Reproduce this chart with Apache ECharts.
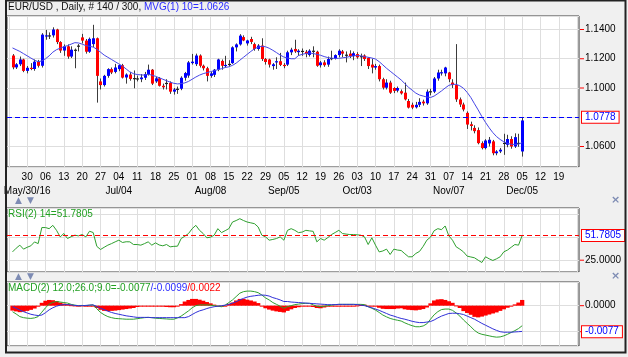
<!DOCTYPE html>
<html><head><meta charset="utf-8">
<script src="https://cdn.jsdelivr.net/npm/echarts@6/dist/echarts.min.js"></script>
<style>html,body{margin:0;padding:0;background:#f0f0f0;}#c{width:628px;height:357px;}</style>
</head><body><div id="c"></div>
<script>
// ---------- categories (trading days) ----------
const firstDay = Date.UTC(2016, 4, 23);
const dayCount = 156;
const categories = [];
for (let t = firstDay; categories.length < dayCount; t += 86400000) {
  const d = new Date(t), wd = d.getUTCDay();
  if (wd > 0 && wd < 6) categories.push(d.toISOString().slice(0, 10));
}
const firstBarIndex = 1; // first candle: 2016-05-24
const monthTickLabels = {
  '2016-05-30': 'May/30/16', '2016-07-04': 'Jul/04', '2016-08-08': 'Aug/08',
  '2016-09-05': 'Sep/05', '2016-10-03': 'Oct/03', '2016-11-07': 'Nov/07', '2016-12-05': 'Dec/05'
};
const dayLabelFirst = '2016-05-30', dayLabelLast = '2016-12-19';

// ---------- price bars ----------
const barOpen = [
 1.1222,1.1141,1.1162,1.1195,
 1.1117,1.1138,1.1130,1.1180,1.1152,
 1.1352,1.1360,1.1360,1.1400,1.1314,
 1.1256,1.1285,1.1215,1.1262,1.1285,
 1.1346,1.1324,1.1248,1.1300,1.1340,
 1.1045,1.1020,1.1083,1.1129,1.1110,
 1.1129,1.1156,1.1072,1.1092,1.1062,
 1.1062,1.1060,1.1070,1.1095,1.1125,
 1.1045,1.1066,1.1015,1.1030,1.1035,
 1.0975,1.0990,1.0995,1.1070,1.1085,
 1.1170,1.1163,1.1222,1.1152,1.1135,
 1.1083,1.1090,1.1125,1.1185,1.1150,
 1.1160,1.1170,1.1278,1.1298,1.1348,
 1.1305,1.1335,1.1300,1.1267,1.1290,
 1.1198,1.1195,1.1150,1.1175,1.1183,
 1.1158,1.1160,1.1244,1.1267,1.1245,
 1.1250,1.1248,1.1226,1.1255,1.1248,
 1.1156,1.1175,1.1160,1.1200,1.1205,
 1.1225,1.1250,1.1225,1.1235,1.1218,
 1.1232,1.1215,1.1222,1.1205,1.1160,
 1.1140,1.1150,1.1060,1.1002,1.1037,
 1.1000,1.0982,1.0978,1.0968,1.0911,
 1.0885,1.0868,1.0885,1.0907,1.0895,
 1.0975,1.0975,1.1065,1.1100,1.1100,
 1.1106,1.1037,1.1020,1.0922,1.0887,
 1.0830,1.0752,1.0727,1.0712,1.0623,
 1.0589,1.0621,1.0635,1.0554,1.0566,
 1.0620,1.0612,1.0651,1.0600,1.0620,
 1.0566];
const barHigh = [
 1.1232,1.1170,1.1215,1.1200,
 1.1150,1.1170,1.1195,1.1192,1.1375,
 1.1397,1.1380,1.1415,1.1405,1.1320,
 1.1298,1.1298,1.1285,1.1270,1.1300,
 1.1370,1.1335,1.1345,1.1432,1.1345,
 1.1065,1.1090,1.1135,1.1140,1.1165,
 1.1160,1.1165,1.1100,1.1110,1.1120,
 1.1085,1.1095,1.1110,1.1160,1.1130,
 1.1075,1.1075,1.1030,1.1060,1.1045,
 1.1000,1.1010,1.1080,1.1110,1.1185,
 1.1233,1.1235,1.1230,1.1160,1.1145,
 1.1110,1.1130,1.1200,1.1195,1.1220,
 1.1190,1.1285,1.1305,1.1368,1.1360,
 1.1330,1.1350,1.1310,1.1300,1.1340,
 1.1205,1.1200,1.1170,1.1210,1.1240,
 1.1170,1.1255,1.1275,1.1330,1.1265,
 1.1270,1.1260,1.1265,1.1285,1.1255,
 1.1185,1.1190,1.1215,1.1255,1.1230,
 1.1265,1.1260,1.1250,1.1258,1.1250,
 1.1245,1.1235,1.1230,1.1210,1.1200,
 1.1165,1.1160,1.1070,1.1060,1.1050,
 1.1005,1.1010,1.0990,1.1037,1.0925,
 1.0900,1.0905,1.0930,1.0920,1.0990,
 1.0995,1.1075,1.1125,1.1125,1.1145,
 1.1110,1.1060,1.1300,1.0935,1.0900,
 1.0840,1.0770,1.0745,1.0730,1.0635,
 1.0650,1.0665,1.0645,1.0575,1.0590,
 1.0687,1.0680,1.0670,1.0690,1.0687,
 1.0795];
const barLow = [
 1.1128,1.1130,1.1150,1.1108,
 1.1100,1.1122,1.1118,1.1140,1.1140,
 1.1330,1.1335,1.1345,1.1300,1.1240,
 1.1220,1.1200,1.1205,1.1135,1.1250,
 1.1305,1.1235,1.1240,1.1280,1.0900,
 1.0990,1.1010,1.1070,1.1095,1.1100,
 1.1115,1.1065,1.1030,1.1050,1.0998,
 1.1045,1.1040,1.1055,1.1085,1.1020,
 1.1035,1.1010,1.0990,1.0990,1.0960,
 1.0955,1.0960,1.0985,1.1050,1.1070,
 1.1160,1.1150,1.1140,1.1120,1.1045,
 1.1070,1.1075,1.1115,1.1125,1.1140,
 1.1145,1.1165,1.1250,1.1290,1.1320,
 1.1290,1.1300,1.1255,1.1255,1.1185,
 1.1160,1.1140,1.1125,1.1130,1.1150,
 1.1135,1.1150,1.1225,1.1240,1.1220,
 1.1220,1.1210,1.1215,1.1210,1.1145,
 1.1140,1.1145,1.1145,1.1190,1.1195,
 1.1210,1.1210,1.1175,1.1205,1.1190,
 1.1200,1.1150,1.1185,1.1130,1.1100,
 1.1125,1.1045,1.0990,1.0990,1.0960,
 1.0965,1.0970,1.0955,1.0915,1.0860,
 1.0855,1.0860,1.0870,1.0880,1.0885,
 1.0950,1.0965,1.1050,1.1085,1.1080,
 1.1040,1.1000,1.0905,1.0870,1.0840,
 1.0720,1.0710,1.0690,1.0615,1.0580,
 1.0580,1.0600,1.0540,1.0540,1.0555,
 1.0543,1.0595,1.0585,1.0590,1.0598,
 1.0531];
const barClose = [
 1.1141,1.1162,1.1195,1.1117,
 1.1138,1.1130,1.1180,1.1152,1.1365,
 1.1360,1.1355,1.1400,1.1314,1.1256,
 1.1285,1.1215,1.1262,1.1258,1.1290,
 1.1324,1.1248,1.1336,1.1340,1.1083,
 1.1020,1.1083,1.1129,1.1106,1.1140,
 1.1156,1.1071,1.1092,1.1062,1.1068,
 1.1066,1.1072,1.1095,1.1125,1.1030,
 1.1066,1.1015,1.1005,1.1035,1.0975,
 1.0990,1.0995,1.1070,1.1102,1.1175,
 1.1180,1.1222,1.1152,1.1135,1.1083,
 1.1100,1.1125,1.1195,1.1152,1.1158,
 1.1165,1.1278,1.1298,1.1358,1.1325,
 1.1325,1.1315,1.1267,1.1290,1.1198,
 1.1178,1.1160,1.1162,1.1183,1.1158,
 1.1150,1.1244,1.1262,1.1250,1.1255,
 1.1254,1.1232,1.1255,1.1250,1.1152,
 1.1175,1.1156,1.1198,1.1205,1.1225,
 1.1255,1.1235,1.1228,1.1218,1.1238,
 1.1210,1.1218,1.1198,1.1150,1.1140,
 1.1150,1.1060,1.1002,1.1037,1.0968,
 1.0980,1.1000,1.0963,1.0922,1.0866,
 1.0866,1.0885,1.0905,1.0895,1.0975,
 1.0978,1.1065,1.1106,1.1108,1.1140,
 1.1060,1.1020,1.0922,1.0887,1.0853,
 1.0750,1.0740,1.0705,1.0623,1.0589,
 1.0641,1.0646,1.0554,1.0566,1.0578,
 1.0625,1.0651,1.0600,1.0664,1.0625,
 1.0778];
// moving average MVG(1) 10
const mvg = [
 1.1274,1.1262,1.1250,1.1235,
 1.1220,1.1205,1.1190,1.1180,1.1185,
 1.1200,1.1220,1.1245,1.1262,1.1272,
 1.1282,1.1290,1.1300,1.1310,1.1308,
 1.1300,1.1290,1.1285,1.1280,1.1265,
 1.1245,1.1225,1.1210,1.1195,1.1180,
 1.1165,1.1150,1.1130,1.1110,1.1098,
 1.1092,1.1090,1.1088,1.1094,1.1088,
 1.1080,1.1070,1.1060,1.1050,1.1040,
 1.1032,1.1028,1.1030,1.1035,1.1045,
 1.1060,1.1075,1.1088,1.1098,1.1105,
 1.1112,1.1118,1.1125,1.1132,1.1140,
 1.1145,1.1155,1.1170,1.1190,1.1210,
 1.1230,1.1250,1.1268,1.1280,1.1285,
 1.1282,1.1272,1.1258,1.1242,1.1225,
 1.1212,1.1205,1.1200,1.1200,1.1222,
 1.1230,1.1236,1.1239,1.1236,1.1230,
 1.1224,1.1215,1.1208,1.1204,1.1202,
 1.1203,1.1206,1.1210,1.1215,1.1220,
 1.1222,1.1220,1.1215,1.1210,1.1205,
 1.1198,1.1180,1.1158,1.1135,1.1115,
 1.1095,1.1075,1.1055,1.1030,1.1005,
 1.0985,1.0965,1.0952,1.0945,1.0938,
 1.0935,1.0945,1.0962,1.0980,1.1000,
 1.1018,1.1025,1.1025,1.1015,1.0998,
 1.0970,1.0935,1.0892,1.0850,1.0805,
 1.0765,1.0728,1.0695,1.0668,1.0648,
 1.0632,1.0622,1.0615,1.0614,1.0617,
 1.0626];
// RSI(2) 14
const rsi = [
 34.0,38.0,41.3,37.0,
 39.0,40.6,44.8,43.0,60.4,
 60.4,59.2,62.8,57.4,50.3,
 53.9,48.5,50.5,52.1,51.4,
 52.8,50.3,56.4,55.0,40.0,
 36.6,39.0,41.3,43.0,44.9,
 46.7,44.2,45.0,44.9,42.0,
 42.0,41.3,43.0,44.9,41.3,
 43.8,41.5,40.6,42.0,39.5,
 40.0,40.2,48.5,51.0,53.9,
 59.2,62.8,57.4,53.9,49.3,
 50.0,52.1,59.2,54.9,57.0,
 59.2,66.4,68.0,70.0,68.0,
 66.4,65.5,64.6,61.0,52.1,
 50.3,46.7,47.5,48.5,50.3,
 46.7,57.4,59.2,57.4,54.9,
 55.5,57.4,56.8,56.3,44.9,
 48.5,46.7,49.5,52.8,55.0,
 57.4,53.9,53.3,52.8,52.8,
 52.5,52.1,50.3,42.0,49.3,
 41.3,34.0,35.0,37.0,31.2,
 37.0,36.0,35.5,32.0,28.7,
 28.7,32.3,34.5,40.0,46.7,
 50.0,57.0,59.2,58.1,62.1,
 51.4,46.7,39.5,37.0,34.0,
 29.4,28.5,27.6,25.0,22.5,
 28.7,26.5,24.7,26.5,28.7,
 34.1,36.0,39.0,42.0,41.3,
 51.7805];
// MACD(2) 12;26;9
const macdLine = [
 -0.0023,-0.0032,-0.0042,-0.0046,
 -0.0048,-0.0049,-0.0047,-0.0042,-0.0025,
 -0.0008,0.0006,0.0013,0.0016,0.0014,
 0.0012,0.0010,0.0005,0.0002,0.0000,
 0.0001,0.0000,0.0002,0.0003,-0.0012,
 -0.0026,-0.0035,-0.0042,-0.0046,-0.0049,
 -0.0050,-0.0051,-0.0052,-0.0052,-0.0052,
 -0.0050,-0.0048,-0.0046,-0.0045,-0.0046,
 -0.0048,-0.0049,-0.0050,-0.0051,-0.0052,
 -0.0052,-0.0047,-0.0040,-0.0030,-0.0020,
 -0.0008,0.0000,0.0003,0.0003,0.0003,
 0.0002,0.0000,-0.0002,-0.0004,0.0002,
 0.0012,0.0022,0.0035,0.0048,0.0054,
 0.0056,0.0056,0.0054,0.0050,0.0041,
 0.0030,0.0022,0.0012,0.0005,-0.0002,
 -0.0010,-0.0004,0.0000,0.0004,0.0006,
 0.0008,0.0009,0.0009,0.0003,-0.0002,
 -0.0004,-0.0002,0.0000,0.0002,0.0004,
 0.0005,0.0005,0.0005,0.0005,0.0005,
 0.0005,0.0005,0.0004,-0.0004,-0.0010,
 -0.0017,-0.0026,-0.0036,-0.0043,-0.0049,
 -0.0053,-0.0056,-0.0059,-0.0066,-0.0072,
 -0.0077,-0.0081,-0.0081,-0.0078,-0.0070,
 -0.0052,-0.0035,-0.0023,-0.0015,-0.0013,
 -0.0013,-0.0018,-0.0028,-0.0040,-0.0055,
 -0.0068,-0.0081,-0.0095,-0.0105,-0.0110,
 -0.0113,-0.0116,-0.0119,-0.0121,-0.0120,
 -0.0116,-0.0110,-0.0103,-0.0096,-0.0088,
 -0.0077];
const macdSignal = [
 -0.0004,-0.0010,-0.0017,-0.0023,
 -0.0028,-0.0033,-0.0036,-0.0038,-0.0036,
 -0.0027,-0.0016,-0.0008,-0.0002,0.0002,
 0.0004,0.0004,0.0003,0.0001,0.0000,
 0.0000,0.0001,0.0002,0.0003,-0.0003,
 -0.0010,-0.0015,-0.0021,-0.0026,-0.0030,
 -0.0033,-0.0036,-0.0039,-0.0041,-0.0043,
 -0.0045,-0.0045,-0.0045,-0.0045,-0.0046,
 -0.0046,-0.0046,-0.0046,-0.0046,-0.0046,
 -0.0046,-0.0046,-0.0046,-0.0046,-0.0042,
 -0.0034,-0.0026,-0.0020,-0.0016,-0.0011,
 -0.0007,-0.0004,-0.0002,0.0000,0.0002,
 0.0005,0.0010,0.0015,0.0022,0.0028,
 0.0033,0.0036,0.0038,0.0040,0.0041,
 0.0040,0.0037,0.0031,0.0027,0.0022,
 0.0016,0.0016,0.0014,0.0013,0.0012,
 0.0011,0.0010,0.0009,0.0008,0.0007,
 0.0006,0.0005,0.0004,0.0004,0.0004,
 0.0005,0.0005,0.0005,0.0005,0.0005,
 0.0004,0.0002,0.0000,-0.0004,-0.0008,
 -0.0013,-0.0018,-0.0024,-0.0030,-0.0036,
 -0.0040,-0.0045,-0.0049,-0.0052,-0.0056,
 -0.0060,-0.0063,-0.0065,-0.0065,-0.0063,
 -0.0061,-0.0055,-0.0047,-0.0040,-0.0035,
 -0.0030,-0.0029,-0.0029,-0.0031,-0.0034,
 -0.0040,-0.0046,-0.0052,-0.0060,-0.0068,
 -0.0075,-0.0082,-0.0089,-0.0095,-0.0100,
 -0.0102,-0.0102,-0.0102,-0.0101,-0.0100,
 -0.0099];
const macdHist = [
 -0.0019,-0.0022,-0.0025,-0.0023,
 -0.0020,-0.0016,-0.0011,-0.0004,0.0011,
 0.0019,0.0022,0.0021,0.0018,0.0012,
 0.0008,0.0006,0.0002,0.0001,0.0000,
 0.0001,-0.0001,0.0000,0.0000,-0.0009,
 -0.0016,-0.0020,-0.0021,-0.0020,-0.0019,
 -0.0017,-0.0015,-0.0013,-0.0011,-0.0009,
 -0.0005,-0.0003,-0.0001,0.0000,0.0000,
 -0.0002,-0.0003,-0.0004,-0.0005,-0.0006,
 -0.0006,-0.0001,0.0006,0.0016,0.0022,
 0.0026,0.0026,0.0023,0.0019,0.0014,
 0.0009,0.0004,0.0000,-0.0004,0.0000,
 0.0007,0.0012,0.0020,0.0026,0.0026,
 0.0023,0.0020,0.0016,0.0010,0.0000,
 -0.0010,-0.0015,-0.0019,-0.0022,-0.0024,
 -0.0026,-0.0020,-0.0014,-0.0009,-0.0006,
 -0.0003,-0.0001,0.0000,-0.0005,-0.0009,
 -0.0010,-0.0007,-0.0004,-0.0002,0.0000,
 0.0000,0.0000,0.0000,0.0000,0.0000,
 0.0001,0.0003,0.0004,0.0000,-0.0002,
 -0.0004,-0.0008,-0.0012,-0.0013,-0.0013,
 -0.0013,-0.0011,-0.0010,-0.0014,-0.0016,
 -0.0017,-0.0018,-0.0016,-0.0013,-0.0007,
 0.0009,0.0020,0.0024,0.0025,0.0022,
 0.0017,0.0011,0.0001,-0.0009,-0.0021,
 -0.0028,-0.0035,-0.0043,-0.0045,-0.0042,
 -0.0038,-0.0034,-0.0030,-0.0026,-0.0020,
 -0.0014,-0.0008,-0.0001,0.0005,0.0012,
 0.0022];

// ---------- helpers ----------
const FONT = 'Liberation Sans, Arial, sans-serif';
const last = barClose.length - 1;
const lastClose = barClose[last];
const isMonday = s => new Date(s + 'T00:00:00Z').getUTCDay() === 1;
const pairs = arr => arr.map((v, i) => [i + firstBarIndex, v]);
const candleData = barOpen.map((o, i) => [i + firstBarIndex, o, barClose[i], barLow[i], barHigh[i]]);

const grids = [
  {left: 7, top: 16, width: 572, height: 151},
  {left: 7, top: 208, width: 572, height: 64},
  {left: 7, top: 282, width: 572, height: 64}
].map(g => Object.assign(g, {show: true, backgroundColor: '#ffffff', borderColor: '#3a3a3a', borderWidth: 1}));

function catAxis(gridIndex, extra) {
  return Object.assign({
    type: 'category', gridIndex, data: categories, boundaryGap: true,
    axisLine: {show: false}, axisTick: {show: false}, axisLabel: {show: false},
    splitLine: {show: true, alignWithLabel: true, interval: (i, v) => isMonday(v),
      lineStyle: {color: '#dedede', width: 1}}
  }, extra || {});
}
function valueLabel(digits, hide) {
  return {
    show: true, margin: 1, showMinLabel: false, showMaxLabel: false,
    fontFamily: FONT, fontSize: 10, color: '#000',
    formatter: v => hide(v) ? '' : '{tk|}{v|' + v.toFixed(digits) + '}',
    rich: {tk: {width: 4, height: 1, backgroundColor: '#ff0000'}, v: {fontFamily: FONT, fontSize: 10, color: '#000', padding: [0, 0, 0, 1]}}
  };
}
function valAxis(gridIndex, min, max, step, digits, hide) {
  return {
    type: 'value', gridIndex, position: 'right', min, max, minInterval: step, maxInterval: step,
    axisLine: {show: false}, axisTick: {show: false},
    axisLabel: valueLabel(digits, hide),
    splitLine: {show: true, lineStyle: {color: '#dedede', width: 1}}
  };
}
function boxLabel(text) {
  return {show: true, position: 'end', distance: 3, formatter: text,
    fontFamily: FONT, fontSize: 10, color: '#0000ff', backgroundColor: '#ffffff',
    borderColor: '#ff0000', borderWidth: 1, padding: [1, 3, 0, 3], opacity: 1};
}

function renderCandle(params, api) {
  const x = api.value(0), o = api.value(1), c = api.value(2), l = api.value(3), h = api.value(4);
  const pO = api.coord([x, o]), pC = api.coord([x, c]), pL = api.coord([x, l]), pH = api.coord([x, h]);
  const cx = Math.round(pO[0]) + 0.5;
  const top = Math.min(pO[1], pC[1]), bot = Math.max(pO[1], pC[1]);
  const doji = Math.abs(c - o) < 0.0006;
  const fill = doji ? '#202020' : (c >= o ? '#0000ff' : '#ff0000');
  return {type: 'group', children: [
    {type: 'line', shape: {x1: cx, y1: pH[1], x2: cx, y2: pL[1]}, style: {stroke: '#3c3c3c', lineWidth: 1}},
    {type: 'rect', shape: {x: cx - 1.5, y: top, width: 3, height: Math.max(bot - top, 1.2)}, style: {fill}}
  ]};
}
function renderHist(params, api) {
  const x = api.value(0), v = api.value(1);
  const p0 = api.coord([x, 0]), p1 = api.coord([x, v]);
  const w = api.size([1, 0])[0];
  const top = Math.min(p0[1], p1[1]);
  return {type: 'rect', shape: {x: p0[0] - w / 2 - 0.3, y: top, width: w + 0.6, height: Math.max(Math.abs(p1[1] - p0[1]), 1)},
    style: {fill: '#ff0000'}};
}

const option = {
  backgroundColor: '#f0f0f0',
  animation: false,
  title: [
    {left: 8, top: 2, padding: 0,
      text: '{a|EUR/USD , Daily, # ' + barOpen.length + ' / 300,} {b|MVG(1) 10=' + mvg[last].toFixed(4) + '}',
      textStyle: {fontFamily: FONT, fontSize: 10, fontWeight: 'normal',
        rich: {a: {fontFamily: FONT, fontSize: 10, color: '#111'}, b: {fontFamily: FONT, fontSize: 10, color: '#2a2aff'}}}},
    {left: 8, top: 209, padding: 0,
      text: 'RSI(2) 14=' + rsi[last].toFixed(4),
      textStyle: {fontFamily: FONT, fontSize: 10, fontWeight: 'normal', color: '#22a022'}},
    {left: 8, top: 283, padding: 0,
      text: '{g|MACD(2) 12.0;26.0;9.0=' + macdLine[last].toFixed(4) + '}{b|/' + macdSignal[last].toFixed(4) + '}{r|/' + macdHist[last].toFixed(4) + '}',
      textStyle: {fontFamily: FONT, fontSize: 10, fontWeight: 'normal',
        rich: {g: {fontFamily: FONT, fontSize: 10, color: '#22a022'}, b: {fontFamily: FONT, fontSize: 10, color: '#2a2aff'}, r: {fontFamily: FONT, fontSize: 10, color: '#ff0000'}}}}
  ],
  grid: grids,
  xAxis: [
    catAxis(0, {axisLabel: {show: true, margin: 5, fontFamily: FONT, fontSize: 10, color: '#000',
      interval: (i, v) => isMonday(v) && v >= dayLabelFirst && v <= dayLabelLast,
      formatter: v => v.slice(8, 10)}}),
    catAxis(0, {position: 'bottom', offset: 14, splitLine: {show: false},
      axisLabel: {show: true, margin: 5, fontFamily: FONT, fontSize: 10, color: '#000',
        interval: (i, v) => monthTickLabels[v] !== undefined,
        formatter: v => monthTickLabels[v] || ''}}),
    catAxis(1),
    catAxis(2)
  ],
  yAxis: [
    valAxis(0, 1.04598, 1.14923, 0.02, 4, v => Math.abs(v - lastClose) < 0.004),
    valAxis(1, 12.2, 81.6, 25, 4, v => Math.abs(v - rsi[last]) < 6 || v > 70),
    valAxis(2, -0.0155, 0.0091, 0.01, 4, v => false)
  ],
  series: [
    {type: 'custom', name: 'EUR/USD', xAxisIndex: 0, yAxisIndex: 0, clip: true,
      renderItem: renderCandle, data: candleData, encode: {x: 0, y: [1, 2, 3, 4]}, z: 2},
    {type: 'line', name: 'MVG', xAxisIndex: 0, yAxisIndex: 0, data: pairs(mvg), showSymbol: false,
      lineStyle: {color: '#4646e6', width: 1}, z: 3,
      markLine: {silent: true, symbol: 'none', data: [{yAxis: lastClose}],
        lineStyle: {color: '#0000ff', width: 1, type: [5, 3]},
        label: boxLabel(lastClose.toFixed(4))}},
    {type: 'line', name: 'RSI', xAxisIndex: 2, yAxisIndex: 1, data: pairs(rsi), showSymbol: false,
      lineStyle: {color: '#2ea02e', width: 1}, z: 3,
      markLine: {silent: true, symbol: 'none', data: [{yAxis: rsi[last]}],
        itemStyle: {color: '#ff0000'},
        lineStyle: {color: '#ff0000', width: 1, type: [5, 3], opacity: 1},
        label: boxLabel(rsi[last].toFixed(4))}},
    {type: 'custom', name: 'Hist', xAxisIndex: 3, yAxisIndex: 2, clip: true, renderItem: renderHist,
      data: pairs(macdHist), encode: {x: 0, y: 1}, z: 2},
    {type: 'line', name: 'MACD', xAxisIndex: 3, yAxisIndex: 2, data: pairs(macdLine), showSymbol: false,
      lineStyle: {color: '#2ea02e', width: 1}, z: 3,
      markLine: {silent: true, symbol: 'none', data: [{yAxis: macdLine[last]}],
        lineStyle: {color: 'rgba(0,0,0,0)', width: 0},
        label: boxLabel(macdLine[last].toFixed(4))}},
    {type: 'line', name: 'Signal', xAxisIndex: 3, yAxisIndex: 2, data: pairs(macdSignal), showSymbol: false,
      lineStyle: {color: '#3030d8', width: 1}, z: 3}
  ],
  graphic: [
    {type: 'rect', silent: true, z: 100, shape: {x: 6, y: 0.5, width: 619.5, height: 352}, style: {fill: 'none', stroke: '#222', lineWidth: 2}},
    {type: 'text', silent: true, z: 100, x: 15, y: 196, style: {text: '▲', fill: '#7d8bb3', font: '9px DejaVu Sans'}},
    {type: 'text', silent: true, z: 100, x: 27, y: 196, style: {text: '▼', fill: '#7d8bb3', font: '9px DejaVu Sans'}},
    {type: 'text', silent: true, z: 100, x: 15, y: 272, style: {text: '▲', fill: '#7d8bb3', font: '9px DejaVu Sans'}},
    {type: 'text', silent: true, z: 100, x: 27, y: 272, style: {text: '▼', fill: '#7d8bb3', font: '9px DejaVu Sans'}},
    {type: 'text', silent: true, z: 100, x: 611, y: 195, style: {text: '×', fill: '#7d8bb3', font: 'bold 11px DejaVu Sans'}},
    {type: 'text', silent: true, z: 100, x: 611, y: 271, style: {text: '×', fill: '#7d8bb3', font: 'bold 11px DejaVu Sans'}}
  ]
};
const chart = echarts.init(document.getElementById('c'));
chart.setOption(option);
</script>
</body></html>
